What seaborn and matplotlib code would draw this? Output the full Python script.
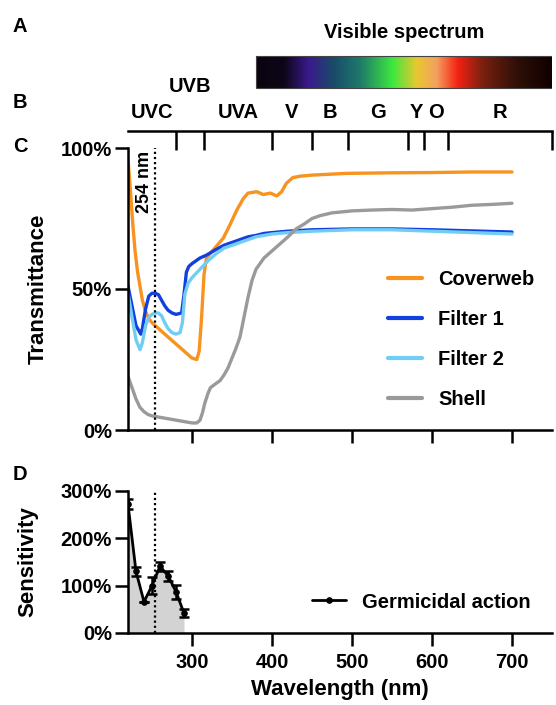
import numpy as np
import matplotlib
matplotlib.use("Agg")
import matplotlib.pyplot as plt
import seaborn as sns
from matplotlib.colors import LinearSegmentedColormap
from matplotlib.patches import Rectangle
from matplotlib.ticker import FuncFormatter

# ---- values ----
band_edges = [220, 280, 315, 400, 450, 495, 570, 590, 620, 750]
band_names = ["UVC", "UVB", "UVA", "V", "B", "G", "Y", "O", "R"]

spectrum_nm = [380, 414, 445, 476, 510, 551, 581, 606, 633, 664, 706, 750]
spectrum_colors = ["#0a0410", "#0d0618", "#3a1a8c", "#1a4a6a", "#1e7a6a", "#3ee83e",
                   "#e8c830", "#f4a060", "#f42010", "#7a2010", "#301008", "#100000"]

wl_coverweb = [220, 223, 226, 229, 232, 235, 238, 242, 246, 250, 254, 260, 270, 280, 290,
               300, 306, 309, 312, 315, 318, 327, 339, 347, 356, 364, 370, 381, 389, 398,
               406, 412, 418, 426, 435, 451, 493, 550, 600, 650, 700]
t_coverweb = [96, 85, 73, 63, 56, 51, 46, 42, 39.5, 38, 37, 35.5, 33, 30.5, 28,
              25.5, 25, 28, 40, 55, 61, 64, 68, 72.5, 78, 82, 84, 84.5, 83.5, 84,
              83, 84.5, 87.5, 89.5, 90, 90.4, 91, 91.2, 91.3, 91.5, 91.5]

wl_filter1 = [220, 225, 230, 236, 238, 242, 246, 250, 254, 258, 262, 266, 270, 275, 280,
              287, 290, 293, 296, 300, 310, 318, 330, 340, 350, 360, 370, 380, 390, 400,
              420, 450, 500, 550, 600, 650, 700]
t_filter1 = [51, 44, 37, 34, 36, 43, 47.5, 48.5, 48.5, 48, 46, 44, 42.5, 41.5, 41,
             41.5, 48, 56, 58, 59, 61, 62, 64, 65.5, 66.5, 67.5, 68.5, 69, 69.7, 70,
             70.5, 71, 71.3, 71.3, 71, 70.6, 70.2]

wl_filter2 = [220, 225, 230, 235, 238, 242, 246, 250, 254, 258, 262, 266, 270, 275, 280,
              285, 288, 291, 295, 300, 305, 310, 315, 320, 330, 340, 350, 360, 370, 380,
              390, 400, 420, 450, 500, 550, 600, 650, 700]
t_filter2 = [48.5, 40, 32, 28.5, 31, 37, 40, 41, 41.5, 41.5, 40.5, 38, 36, 34.5, 34,
             34.5, 38, 48, 52, 54, 55.5, 57, 58.5, 60, 62.5, 64.5, 65.5, 66.5, 67.5, 68.5,
             69, 69.5, 70, 70.5, 71, 71, 70.5, 70, 69.5]

wl_shell = [220, 225, 230, 235, 240, 245, 250, 260, 270, 280, 290, 300, 306, 310, 313,
            316, 320, 323, 330, 335, 340, 345, 350, 355, 360, 365, 370, 375, 380, 390,
            400, 410, 420, 430, 440, 450, 460, 475, 500, 525, 550, 575, 600, 625, 650,
            675, 700]
t_shell = [19, 15, 11, 8, 6.5, 5.5, 5, 4.5, 4, 3.5, 3, 2.5, 2.5, 3.5, 6,
           9.5, 13, 15, 16.5, 17.5, 19.5, 22, 25.5, 29, 33, 40, 47, 53, 57, 61,
           63.5, 66, 68.5, 71.3, 73, 75, 76, 77, 77.7, 78, 78.2, 78, 78.5, 79, 79.7,
           80, 80.4]

germ_wl = [220, 230, 240, 250, 260, 270, 280, 290]
germ_sens = [272, 130, 66, 100, 141, 121, 87, 42]
germ_err = [11, 10, 0, 18, 10, 11, 15, 9]

uvc_nm = 254

series = [
    ("Coverweb", wl_coverweb, t_coverweb, "#F7931E"),
    ("Filter 1", wl_filter1, t_filter1, "#1040E0"),
    ("Filter 2", wl_filter2, t_filter2, "#72CDF4"),
    ("Shell", wl_shell, t_shell, "#9A9A9A"),
]

# ---- style ----
sns.set_theme(style="ticks")
plt.rcParams["font.family"] = ["Liberation Sans", "DejaVu Sans"]
plt.rcParams["font.weight"] = "bold"
plt.rcParams["axes.labelweight"] = "bold"
for key in ["text.color", "axes.labelcolor", "xtick.color", "ytick.color", "axes.edgecolor"]:
    plt.rcParams[key] = "black"

FS = 14.5
LW_AX = 1.8

W, H = 556, 705
fig = plt.figure(figsize=(W / 100, H / 100), dpi=100)


def px_axes(left, top, right, bottom):
    return fig.add_axes([left / W, 1 - bottom / H, (right - left) / W, (bottom - top) / H])


pct = FuncFormatter(lambda v, _: f"{v:.0f}%")


def style_axis(ax):
    for side in ["top", "right"]:
        ax.spines[side].set_visible(False)
    for side in ["left", "bottom"]:
        ax.spines[side].set_linewidth(LW_AX)
        ax.spines[side].set_color("black")
    ax.tick_params(width=LW_AX, length=9.5, labelsize=FS, color="black",
                   labelcolor="black", pad=2)
    ax.patch.set_visible(False)


# ---- panel C: transmittance ----
ax_c = px_axes(128, 148, 552, 430)
for name, wl, t, col in series:
    sns.lineplot(x=wl, y=t, ax=ax_c, color=col, linewidth=2.4, label=name,
                 estimator=None, sort=False)
ax_c.axvline(uvc_nm, color="black", linestyle=(0, (1, 1.3)), linewidth=1.6)
ax_c.text(uvc_nm - 13, 99, "254 nm", rotation=90, ha="center", va="top", fontsize=13)
ax_c.set_xlim(220, 750)
ax_c.set_ylim(0, 100)
ax_c.set_yticks([0, 50, 100])
ax_c.yaxis.set_major_formatter(pct)
ax_c.set_xticks([300, 400, 500, 600, 700])
ax_c.set_xticklabels([])
ax_c.set_xlabel("")
ax_c.set_ylabel("Transmittance", fontsize=16)
ax_c.yaxis.set_label_coords((49 - 128) / 424, 0.5)
style_axis(ax_c)
leg = ax_c.legend(loc="upper left", bbox_to_anchor=(388 / W, 1 - 270 / H),
                  bbox_transform=fig.transFigure, frameon=False, fontsize=FS,
                  handlelength=1.7, handletextpad=0.8, labelspacing=1.05,
                  borderpad=0, borderaxespad=0)
for line in leg.get_lines():
    line.set_linewidth(3)

# ---- panel D: germicidal sensitivity ----
ax_d = px_axes(128, 491, 552, 633)
ax_d.fill_between(germ_wl, germ_sens, 0, color="#D3D3D3", linewidth=0)
sns.lineplot(x=germ_wl, y=germ_sens, ax=ax_d, color="black", linewidth=2,
             marker="o", markersize=4, markeredgecolor="black",
             label="Germicidal action", estimator=None, sort=False)
ax_d.errorbar(germ_wl, germ_sens, yerr=germ_err, fmt="none", ecolor="black",
              elinewidth=1.8, capsize=3.5, capthick=1.8)
ax_d.axvline(uvc_nm, color="black", linestyle=(0, (1, 1.3)), linewidth=1.6)
ax_d.set_xlim(220, 750)
ax_d.set_ylim(0, 300)
ax_d.set_yticks([0, 100, 200, 300])
ax_d.yaxis.set_major_formatter(pct)
ax_d.set_xticks([300, 400, 500, 600, 700])
ax_d.set_xlabel("Wavelength (nm)", fontsize=16)
ax_d.set_ylabel("Sensitivity", fontsize=16)
ax_d.xaxis.set_label_coords(0.5, -(679 - 633) / 142)
ax_d.yaxis.set_label_coords((38 - 128) / 424, 0.5)
style_axis(ax_d)
ax_d.tick_params(axis="x", pad=5)
leg_d = ax_d.legend(loc="center left", bbox_to_anchor=(312 / W, 1 - 602 / H),
                    bbox_transform=fig.transFigure, frameon=False, fontsize=FS,
                    handlelength=1.7, handletextpad=0.8, borderpad=0, borderaxespad=0)

# ---- panels A/B: band scale and visible spectrum ----
ax_b = px_axes(128, 15, 552, 131)
ax_b.set_xlim(220, 750)
ax_b.set_ylim(0, 116)
for side in ["top", "right", "left"]:
    ax_b.spines[side].set_visible(False)
ax_b.spines["bottom"].set_linewidth(LW_AX)
ax_b.spines["bottom"].set_color("black")
ax_b.set_xticks(band_edges[1:])
ax_b.set_xticklabels([])
ax_b.set_yticks([])
ax_b.tick_params(axis="x", direction="out", length=13.5, width=LW_AX, color="black")
ax_b.patch.set_visible(False)
ax_b.grid(False)
mids = [(a + b) / 2 for a, b in zip(band_edges[:-1], band_edges[1:])]
for name, mx in zip(band_names, mids):
    ax_b.text(mx, 44 if name == "UVB" else 19, name, ha="center", va="center", fontsize=FS)

cmap = LinearSegmentedColormap.from_list(
    "visible",
    [((n - spectrum_nm[0]) / (spectrum_nm[-1] - spectrum_nm[0]), c)
     for n, c in zip(spectrum_nm, spectrum_colors)])
ax_b.imshow(np.linspace(0, 1, 400)[None, :], cmap=cmap, aspect="auto",
            extent=[spectrum_nm[0], spectrum_nm[-1], 43, 75])
ax_b.add_patch(Rectangle((spectrum_nm[0], 43), spectrum_nm[-1] - spectrum_nm[0], 32,
                         fill=False, edgecolor="#444444", linewidth=0.8))
ax_b.text((spectrum_nm[0] + spectrum_nm[-1]) / 2, 98, "Visible spectrum",
          ha="center", va="center", fontsize=FS)
ax_b.set_xlim(220, 750)
ax_b.set_ylim(0, 116)

# panel letters
for letter, y in [("A", 27), ("B", 102), ("C", 146), ("D", 475)]:
    fig.text(20 / W, 1 - y / H, letter, ha="center", va="center", fontsize=FS)

fig.savefig("out.png", dpi=100)
